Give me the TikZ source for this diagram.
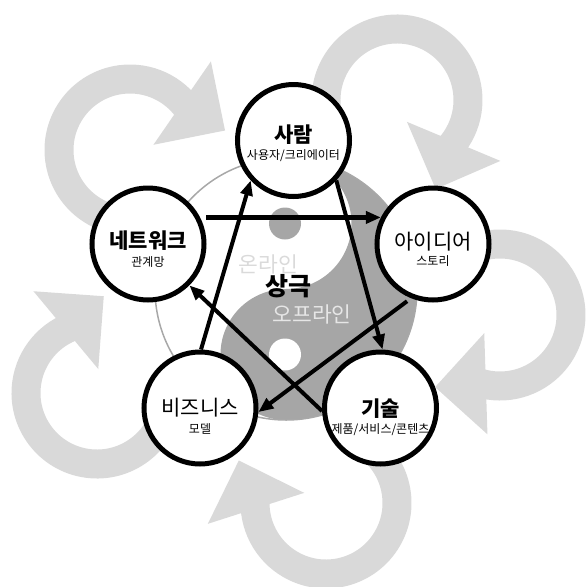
\documentclass[tikz,border=0pt]{standalone}
\usepackage{fontspec}
\setmainfont{Noto Sans CJK KR}
\usetikzlibrary{arrows.meta}

\definecolor{loopgray}{HTML}{D9D9D9}
\definecolor{yingray}{HTML}{A6A6A6}
\definecolor{ringgray}{HTML}{A8A8A8}
\definecolor{onlinegray}{HTML}{DADADA}
\definecolor{offlinegray}{HTML}{E6E6E6}

\begin{document}
\begin{tikzpicture}[x=1pt, y=1pt,
  stage/.style={circle, draw=black, line width=5pt, fill=white, minimum size=112pt, inner sep=0pt},
  title/.style={inner sep=0pt, font=\fontsize{21}{21}\selectfont},
  bold title/.style={inner sep=0pt, font=\bfseries\fontsize{21}{21}\selectfont},
  subtitle/.style={inner sep=0pt, font=\fontsize{12}{12}\selectfont},
  flow/.style={line width=4pt, -{Triangle[length=15pt, width=12pt]}},
  turn/.style={loopgray, line width=29pt},
]
\useasboundingbox (0,0) rectangle (586,-587);

% gray loops
\begin{scope}[shift={(397,-100)}, rotate=60.5]
  \draw[turn] (139:71) arc[start angle=139, end angle=-106, radius=71];
  \fill[loopgray] (234:24) -- (269:120) -- (233:97) -- cycle;
\end{scope}
\begin{scope}[shift={(130,-150)}, rotate=138.6]
  \draw[turn] (139:71) arc[start angle=139, end angle=-106, radius=71];
  \fill[loopgray] (234:24) -- (269:120) -- (233:97) -- cycle;
\end{scope}
\begin{scope}[shift={(500,-315)}, rotate=-5]
  \draw[turn] (139:71) arc[start angle=139, end angle=-106, radius=71];
  \fill[loopgray] (234:24) -- (269:120) -- (233:97) -- cycle;
\end{scope}
\begin{scope}[shift={(97,-393)}, rotate=213]
  \draw[turn] (139:71) arc[start angle=139, end angle=-106, radius=71];
  \fill[loopgray] (234:24) -- (269:120) -- (233:97) -- cycle;
\end{scope}
\begin{scope}[shift={(326,-503)}, rotate=281]
  \draw[turn] (139:71) arc[start angle=139, end angle=-106, radius=71];
  \fill[loopgray] (234:24) -- (269:120) -- (233:97) -- cycle;
\end{scope}

% yin and yang
\fill[yingray] (286,-158) arc[start angle=90, end angle=-90, radius=131]
  arc[start angle=-90, end angle=-270, radius=65.5]
  arc[start angle=-90, end angle=90, radius=65.5] -- cycle;
\draw[ringgray, line width=1.5pt] (286,-289) circle[radius=131];
\fill[yingray] (285,-223.5) circle[radius=16];
\fill[white] (285,-354.5) circle[radius=16];

\node[inner sep=0pt, text=onlinegray, font=\fontsize{21.5}{21.5}\selectfont] (online) at (268.5,-264) {온라인};
\node[inner sep=0pt, font=\bfseries\fontsize{25}{25}\selectfont] (sanggeuk) at (288.5,-286.5) {상극};
\node[inner sep=0pt, text=offlinegray, font=\fontsize{21.5}{21.5}\selectfont] (offline) at (312,-314) {오프라인};

% five circles
\node[stage] (person) at (293.5,-140.5) {};
\node[stage] (idea) at (433,-244) {};
\node[stage] (tech) at (380.5,-408) {};
\node[stage] (biz) at (200,-408) {};
\node[stage] (net) at (148,-244) {};

% add texts
\node[bold title] (person title) at ([yshift=5.5pt]person.center) {사람};
\node[subtitle] (person sub) at ([yshift=-15.5pt]person.center) {사용자/크리에이터};
\node[title] (idea title) at ([yshift=2pt]idea.center) {아이디어};
\node[subtitle] (idea sub) at ([yshift=-17.5pt]idea.center) {스토리};
\node[bold title] (tech title) at ([yshift=-1pt]tech.center) {기술};
\node[subtitle] (tech sub) at ([yshift=-22pt]tech.center) {제품/서비스/콘텐츠};
\node[title] (biz title) at (biz.center) {비즈니스};
\node[subtitle] (biz sub) at ([yshift=-21pt]biz.center) {모델};
\node[bold title] (net title) at ([yshift=3pt]net.center) {네트워크};
\node[subtitle] (net sub) at ([yshift=-18pt]net.center) {관계망};

% draw arrows
\draw[flow, line width=5pt, shorten <=6pt] (net.27) -- (idea.153);
\draw[flow] (person.-43) -- (tech.88);
\draw[flow, shorten <=5pt] (idea.248) -- (biz.-4);
\draw[flow] (tech.183) -- (net.-45);
\draw[flow] (biz.89) -- (person.223);

\end{tikzpicture}
\end{document}
